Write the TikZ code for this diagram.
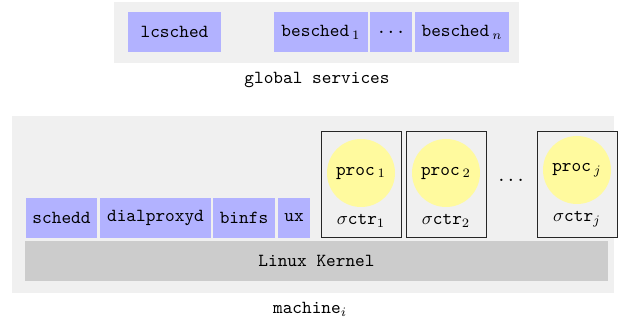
\documentclass[tikz,border=0pt]{standalone}
\usepackage{tikz}
\newdimen\px \px=0.543pt

\begin{document}
\begin{tikzpicture}[x=0.543pt,y=-0.543pt,
    area/.style={fill=black!6},
    svc/.style={fill=blue!30,minimum height=40\px,inner sep=0pt,font=\ttfamily},
    kernel/.style={fill=black!20,minimum height=40\px,inner sep=0pt,font=\ttfamily},
    ctrbox/.style={draw=black!85,fill=black!6,minimum width=80\px,minimum height=106\px,inner sep=0pt},
    proc/.style={circle,fill=yellow!38,minimum size=68\px,inner sep=0pt,font=\ttfamily}]
  \useasboundingbox (0,0) rectangle (618,323);
  % --- top: global services
  \fill[area] (114,2) rectangle (519,63);
  \node[svc,minimum width=93\px] (lcsched) at (174.5,32) {lcsched};
  \node[svc,minimum width=94\px] (besched1) at (321,32) {besched\,$_1$};
  \node[svc,minimum width=42\px] (bdots) at (391,32) {...};
  \node[svc,minimum width=94\px] (beschedn) at (462,32) {besched\,$_n$};
  \node[font=\ttfamily] (global) at (317,80) {global services};
  % --- bottom: one machine
  \fill[area] (12,116) rectangle (614,293);
  \node[svc,minimum width=71\px] (schedd) at (61.5,218) {schedd};
  \node[svc,minimum width=111\px] (dialproxyd) at (155.5,218) {dialproxyd};
  \node[svc,minimum width=62\px] (binfs) at (244,218) {binfs};
  \node[svc,minimum width=32\px] (ux) at (294,218) {ux};
  \node[kernel,minimum width=583\px] (kernel) at (316.5,261) {Linux Kernel};
  % containers
  \node[ctrbox] (ctr1) at (361,184) {};
  \node[ctrbox] (ctr2) at (446,184) {};
  \node[ctrbox] (ctrj) at (577,184.5) {};
  \node[proc] (proc1) at (361,173) {proc\,$_1$};
  \node[proc] (proc2) at (446,173) {proc\,$_2$};
  \node[proc] (procj) at (577,170) {proc\,$_j$};
  \node (sig1) at (361,221) {$\sigma$\texttt{ctr}$_1$};
  \node (sig2) at (446,221) {$\sigma$\texttt{ctr}$_2$};
  \node (sigj) at (577,219) {$\sigma$\texttt{ctr}$_j$};
  \node (cdots) at (511,180) {\texttt{...}};
  \node (machine) at (310,309) {\texttt{machine}$_i$};
\end{tikzpicture}
\end{document}
